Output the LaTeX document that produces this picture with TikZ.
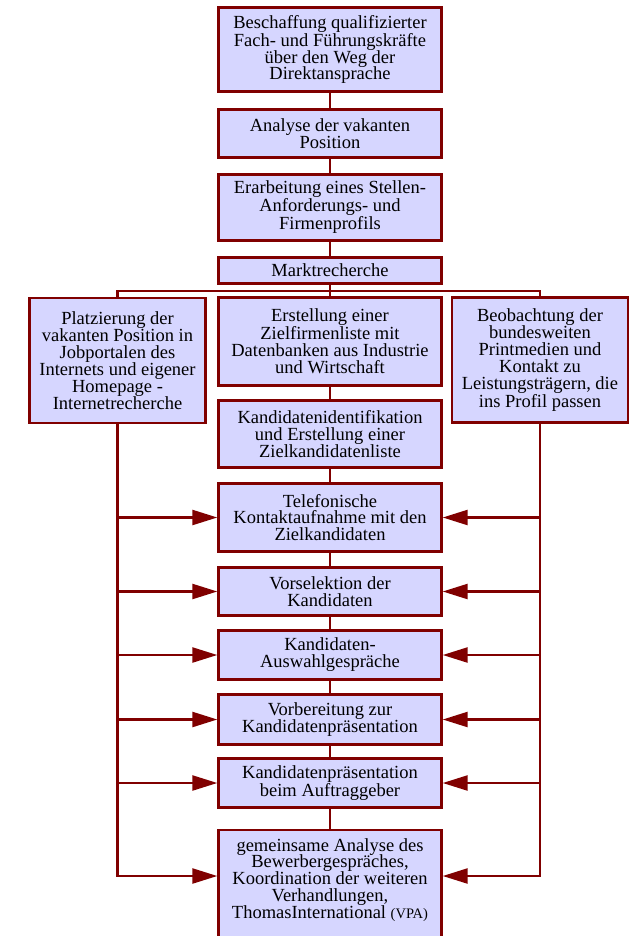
\documentclass[tikz,border=0pt]{standalone}
\usepackage{fontspec}
\setmainfont{Liberation Serif}
\usepackage{tikz}
\usetikzlibrary{arrows.meta}
\definecolor{weinrot}{RGB}{128,0,0}
\definecolor{lavendel}{RGB}{214,214,255}
\tikzstyle{kasten} = [rectangle, draw=weinrot, line width=2.4pt, fill=lavendel, align=center, inner sep=3pt, minimum width=223pt]
\tikzstyle{seite} = [kasten, minimum width=176pt]
\tikzstyle{linie} = [draw=weinrot, line width=2.4pt]
\tikzstyle{pfeil} = [linie, -{Triangle[length=25pt,width=15pt]}]

\begin{document}
\begin{tikzpicture}[x=1pt, y=-1pt, font=\fontsize{18.5}{16.9}\selectfont]
\useasboundingbox (0,0) rectangle (630,936);

\node (ziel) [kasten, minimum height=84pt] at (330,49.5) {Beschaffung qualifizierter\\Fach- und Führungskräfte\\über den Weg der\\Direktansprache};
\node (analyse) [kasten, minimum height=48pt] at (330,133.5) {Analyse der vakanten\\Position};
\node (profil) [kasten, minimum height=66pt] at (330,207.5) {Erarbeitung eines Stellen-\\Anforderungs- und\\Firmenprofils};
\node (markt) [kasten, minimum height=26pt] at (330,270.5) {Marktrecherche};
\node (platz) [seite, minimum height=125pt] at (117.5,360.5) {Platzierung der\\vakanten Position in\\Jobportalen des\\Internets und eigener\\Homepage -\\Internetrecherche};
\node (firmen) [kasten, minimum height=88pt] at (330,341.5) {Erstellung einer\\Zielfirmenliste mit\\Datenbanken aus Industrie\\und Wirtschaft};
\node (print) [seite, minimum height=125pt] at (540,360) {Beobachtung der\\bundesweiten\\Printmedien und\\Kontakt zu\\Leistungsträgern, die\\ins Profil passen};
\node (ident) [kasten, minimum height=67pt] at (330,434) {Kandidatenidentifikation\\und Erstellung einer\\Zielkandidatenliste};
\node (telefon) [kasten, minimum height=68pt] at (330,517.5) {Telefonische\\Kontaktaufnahme mit den\\Zielkandidaten};
\node (vorsel) [kasten, minimum height=48pt] at (330,591.5) {Vorselektion der\\Kandidaten};
\node (auswahl) [kasten, minimum height=49pt] at (330,655) {Kandidaten-\\Auswahlgespräche};
\node (vorber) [kasten, minimum height=50pt] at (330,719.5) {Vorbereitung zur\\Kandidatenpräsentation};
\node (praes) [kasten, minimum height=49pt] at (330,783) {Kandidatenpräsentation\\beim Auftraggeber};
\node (gemeinsam) [kasten, anchor=north, inner ysep=8pt, text depth=100pt] at (330,829) {gemeinsame Analyse des\\Bewerbergespräches,\\Koordination der weiteren\\Verhandlungen,\\ThomasInternational {\fontsize{14.5}{16.9}\selectfont(VPA)}};

\coordinate (verzweig) at (330,291);
\coordinate (gmitte) at (330,876);

% Hauptstrang
\foreach \a/\b in {ziel/analyse, analyse/profil, profil/markt, markt/firmen, firmen/ident, ident/telefon, telefon/vorsel, vorsel/auswahl, auswahl/vorber, vorber/praes, praes/gemeinsam}
  \draw [linie] (\a) -- (\b);
\draw [linie] (platz.north) |- (verzweig) -| (print.north);

% Seitenstraenge
\draw [pfeil] (platz.south) |- (gemeinsam.west |- gmitte);
\draw [pfeil] (print.south) |- (gemeinsam.east |- gmitte);
\foreach \n in {telefon, vorsel, auswahl, vorber, praes} {
  \draw [pfeil] (platz.south |- \n.west) -- (\n.west);
  \draw [pfeil] (print.south |- \n.east) -- (\n.east);
}

\end{tikzpicture}
\end{document}
